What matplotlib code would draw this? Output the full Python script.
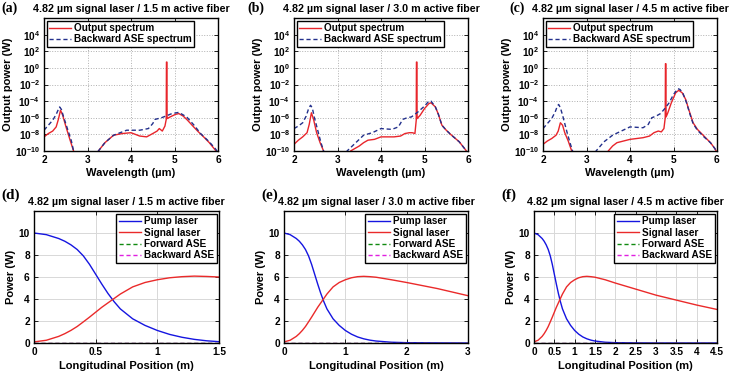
import numpy as np
import matplotlib.pyplot as plt
from matplotlib.ticker import FixedLocator, NullLocator

plt.rcParams['font.family'] = ['Liberation Sans', 'DejaVu Sans']
plt.rcParams['font.weight'] = 'bold'

titles = ["4.82 \u00b5m signal laser / 1.5 m active fiber",
          "4.82 \u00b5m signal laser / 3.0 m active fiber",
          "4.82 \u00b5m signal laser / 4.5 m active fiber"]
panel_tags = ["(a)", "(b)", "(c)", "(d)", "(e)", "(f)"]

# Spectra: wavelength (um) and log10 of output power (W)
wl_out_a = [2.0, 2.1, 2.2, 2.28, 2.33, 2.38, 2.43, 2.5, 2.6, 2.68, 2.75, 3.2, 3.25, 3.4, 3.6, 3.8, 4.0,
            4.2, 4.36, 4.5, 4.6, 4.65, 4.72, 4.78, 4.81, 4.815, 4.825, 4.83, 4.9, 5.02, 5.1, 5.2, 5.3,
            5.44, 5.55, 5.67, 5.8, 5.94, 6.0]
lg_out_a = [-8.3, -7.9, -7.6, -7.1, -6.2, -5.1, -5.7, -7.0, -8.7, -10.0, -11, -11, -10.0, -9.0, -8.1,
            -7.9, -7.8, -8.2, -8.3, -7.9, -7.6, -7.3, -7.6, -7.0, -6.2, 0.7, 0.7, -6.1, -5.9, -5.6,
            -5.5, -5.8, -6.3, -7.1, -7.7, -8.3, -9.0, -9.9, -10.3]
wl_ase_a = [2.0, 2.1, 2.2, 2.28, 2.33, 2.36, 2.4, 2.45, 2.55, 2.63, 2.68, 2.75, 3.2, 3.25, 3.4, 3.6,
            3.8, 3.9, 4.0, 4.2, 4.4, 4.5, 4.55, 4.7, 4.8, 4.94, 5.05, 5.1, 5.18, 5.28, 5.45, 5.6,
            5.8, 5.95, 6.0]
lg_ase_a = [-7.5, -6.9, -6.3, -5.6, -5.0, -4.7, -5.0, -5.9, -7.5, -8.8, -10.0, -11, -11, -10.0, -9.0,
            -8.1, -7.7, -7.5, -7.5, -7.5, -7.3, -6.7, -6.2, -6.0, -5.8, -5.5, -5.4, -5.35, -5.6,
            -5.9, -6.9, -7.9, -8.9, -9.8, -10.2]

wl_out_b = [2.0, 2.1, 2.2, 2.3, 2.35, 2.4, 2.45, 2.52, 2.6, 2.68, 2.75, 3.25, 3.3, 3.5, 3.6, 3.7,
            3.85, 4.0, 4.15, 4.3, 4.45, 4.55, 4.65, 4.72, 4.78, 4.81, 4.815, 4.825, 4.83, 4.9, 5.0,
            5.1, 5.15, 5.25, 5.32, 5.4, 5.5, 5.6, 5.8, 5.95, 6.0]
lg_out_b = [-9.2, -8.7, -8.3, -7.8, -6.8, -5.4, -6.2, -7.8, -9.0, -10.0, -11, -11, -10.0, -9.4, -9.0,
            -8.7, -8.6, -8.3, -8.3, -8.3, -8.2, -7.9, -7.8, -7.8, -7.9, -6.3, 0.7, 0.7, -6.1, -5.7,
            -4.9, -4.3, -4.2, -4.7, -5.6, -6.9, -7.5, -8.0, -8.9, -9.9, -10.3]
wl_ase_b = [2.0, 2.1, 2.2, 2.28, 2.33, 2.38, 2.42, 2.47, 2.55, 2.62, 2.68, 2.75, 3.15, 3.22, 3.4, 3.6,
            3.8, 4.0, 4.25, 4.4, 4.5, 4.6, 4.7, 4.85, 5.0, 5.1, 5.15, 5.25, 5.32, 5.4, 5.5, 5.6,
            5.8, 5.95, 6.0]
lg_ase_b = [-7.3, -7.0, -6.6, -5.8, -5.0, -4.5, -4.8, -6.0, -7.6, -9.0, -10.0, -11, -11, -10.0, -9.1,
            -8.1, -7.8, -7.3, -7.4, -7.1, -6.2, -6.0, -5.9, -5.3, -4.6, -4.0, -4.0, -4.7, -5.6,
            -6.9, -7.5, -8.0, -8.9, -9.9, -10.3]

wl_out_c = [2.0, 2.1, 2.2, 2.3, 2.35, 2.4, 2.45, 2.5, 2.58, 2.66, 2.75, 3.4, 3.5, 3.6, 3.7, 3.85,
            4.0, 4.15, 4.3, 4.45, 4.55, 4.65, 4.72, 4.78, 4.81, 4.815, 4.825, 4.83, 4.87, 4.95,
            5.05, 5.12, 5.2, 5.28, 5.35, 5.45, 5.55, 5.7, 5.85, 5.95, 6.0]
lg_out_c = [-9.2, -8.8, -8.5, -8.1, -7.6, -6.6, -6.9, -7.8, -8.8, -10.0, -11, -11, -10.0, -9.4, -9.0,
            -8.8, -8.6, -8.5, -8.4, -8.2, -7.8, -7.6, -7.7, -7.3, -6.0, 0.5, 0.5, -5.9, -5.4, -4.2,
            -3.0, -2.7, -3.0, -3.8, -5.0, -6.6, -7.4, -8.2, -9.0, -9.7, -10.2]
wl_ase_c = [2.0, 2.1, 2.2, 2.28, 2.33, 2.36, 2.4, 2.45, 2.55, 2.62, 2.68, 2.75, 3.15, 3.22, 3.4, 3.6,
            3.8, 4.0, 4.3, 4.42, 4.5, 4.6, 4.7, 4.8, 4.9, 5.0, 5.1, 5.15, 5.22, 5.3, 5.38, 5.45,
            5.55, 5.7, 5.85, 5.95, 6.0]
lg_ase_c = [-7.3, -6.7, -6.1, -5.3, -4.6, -4.4, -4.8, -5.7, -7.7, -9.0, -10.0, -11, -11, -10.0, -8.9,
            -8.1, -7.6, -7.1, -7.2, -6.8, -6.0, -5.8, -5.5, -4.9, -4.2, -3.2, -2.5, -2.6, -3.1,
            -4.2, -5.6, -6.7, -7.5, -8.3, -9.0, -9.7, -10.2]

# Power evolution along the fiber (W)
pos_d = [0, 0.1, 0.2, 0.25, 0.3, 0.35, 0.4, 0.45, 0.5, 0.55, 0.6, 0.65, 0.7, 0.8, 0.9, 1.0, 1.1,
         1.2, 1.3, 1.4, 1.5]
pump_d = [10, 9.85, 9.5, 9.25, 8.92, 8.5, 7.92, 7.15, 6.25, 5.35, 4.5, 3.75, 3.1, 2.2, 1.6, 1.14,
          0.78, 0.52, 0.33, 0.2, 0.12]
signal_d = [0.1, 0.25, 0.6, 0.85, 1.15, 1.5, 1.92, 2.35, 2.8, 3.25, 3.65, 4.05, 4.45, 5.1, 5.5,
            5.75, 5.93, 6.03, 6.08, 6.05, 6.0]

pos_e = [0, 0.1, 0.2, 0.25, 0.3, 0.35, 0.4, 0.45, 0.5, 0.55, 0.6, 0.65, 0.7, 0.8, 0.9, 1.0, 1.1,
         1.2, 1.3, 1.4, 1.5, 1.75, 2.0, 2.5, 3.0]
pump_e = [10, 9.85, 9.5, 9.25, 8.92, 8.5, 7.92, 7.15, 6.25, 5.35, 4.5, 3.75, 3.1, 2.2, 1.6, 1.14,
          0.8, 0.55, 0.38, 0.26, 0.18, 0.07, 0.03, 0.01, 0.0]
signal_e = [0.1, 0.25, 0.6, 0.85, 1.15, 1.5, 1.92, 2.35, 2.8, 3.25, 3.65, 4.05, 4.45, 5.1, 5.5,
            5.75, 5.93, 6.03, 6.06, 6.03, 5.98, 5.75, 5.5, 4.95, 4.3]

pos_f = [0, 0.1, 0.2, 0.25, 0.3, 0.35, 0.4, 0.45, 0.5, 0.55, 0.6, 0.65, 0.7, 0.8, 0.9, 1.0, 1.1,
         1.2, 1.3, 1.4, 1.5, 1.75, 2.0, 2.5, 3.0, 3.5, 4.0, 4.5]
pump_f = [10, 9.85, 9.5, 9.25, 8.92, 8.5, 7.92, 7.15, 6.25, 5.35, 4.5, 3.75, 3.1, 2.2, 1.6, 1.14,
          0.8, 0.55, 0.38, 0.26, 0.18, 0.07, 0.03, 0.01, 0.0, 0.0, 0.0, 0.0]
signal_f = [0.1, 0.25, 0.6, 0.85, 1.15, 1.5, 1.92, 2.35, 2.8, 3.25, 3.65, 4.05, 4.45, 5.1, 5.5,
            5.75, 5.93, 6.03, 6.06, 6.03, 5.98, 5.75, 5.45, 4.9, 4.35, 3.9, 3.45, 3.05]

fiber_len = [1.5, 3.0, 4.5]
fwd_ase = [0.0, 0.0]
bwd_ase = [0.0, 0.0]

spectra = [(wl_out_a, lg_out_a, wl_ase_a, lg_ase_a),
           (wl_out_b, lg_out_b, wl_ase_b, lg_ase_b),
           (wl_out_c, lg_out_c, wl_ase_c, lg_ase_c)]
powers = [(pos_d, pump_d, signal_d), (pos_e, pump_e, signal_e), (pos_f, pump_f, signal_f)]
x_ticks = [[0, 0.5, 1, 1.5], [0, 1, 2, 3], [0, 0.5, 1, 1.5, 2, 2.5, 3, 3.5, 4, 4.5]]

W, H = 742, 378
fig = plt.figure(figsize=(W / 100, H / 100), dpi=100)

top_left = [44, 294, 543]
bot_left = [34, 284, 534]
bot_width = [185, 184, 183]
tag_top_x = [1, 247, 509]
tag_bot_x = [1, 261, 501]
serif = ['Liberation Serif', 'DejaVu Serif']


def style_axes(ax):
    for s in ax.spines.values():
        s.set_linewidth(1.0)
        s.set_color('black')
    ax.tick_params(direction='in', length=3, width=0.6, labelsize=7.3, pad=3,
                   top=True, right=True)
    for lab in ax.get_xticklabels() + ax.get_yticklabels():
        lab.set_fontweight('bold')


def add_legend(ax, loc):
    leg = ax.legend(loc=loc, handlelength=2.2, handletextpad=0.3,
                    borderpad=0.25, labelspacing=0.15, borderaxespad=0.25, fancybox=False,
                    framealpha=1, edgecolor='black', prop={'weight': 'bold', 'size': 7.2})
    leg.get_frame().set_linewidth(1.0)


for i in range(3):
    # spectrum panel
    ax = fig.add_axes([top_left[i] / W, 1 - 151 / H, 174 / W, 133 / H])
    wo, lo, wa, la = spectra[i]
    ax.plot(wo, 10 ** np.array(lo), color='#e8252b', lw=1.0, label='Output spectrum')
    ax.plot(wa, 10 ** np.array(la), color='#23308c', lw=1.0, ls=(0, (3, 2)),
            label='Backward ASE spectrum')
    ax.set_yscale('log')
    ax.set_xlim(2, 6)
    ax.set_ylim(1e-10, 1e6)
    ax.set_xticks([2, 3, 4, 5, 6])
    ax.yaxis.set_major_locator(FixedLocator([10.0 ** k for k in range(-10, 5, 2)]))
    ax.yaxis.set_minor_locator(NullLocator())
    ax.grid(True, ls=':', color='#b0b0b0', lw=0.7)
    ax.set_xlabel('Wavelength (\u00b5m)', fontsize=8, fontweight='bold', labelpad=2)
    ax.set_ylabel('Output power (W)', fontsize=8, fontweight='bold', labelpad=1)
    ax.set_title(titles[i], fontsize=7.7, fontweight='bold', pad=4)
    add_legend(ax, 'upper left')
    style_axes(ax)
    fig.text(tag_top_x[i] / W, 1 - 2 / H, panel_tags[i], fontsize=10, fontweight='bold',
             family=serif, ha='left', va='top')

    # power panel
    ax = fig.add_axes([bot_left[i] / W, 1 - 343 / H, bot_width[i] / W, 132 / H])
    p, pu, si = powers[i]
    L = fiber_len[i]
    ax.plot(p, pu, color='#1515e0', lw=1.0, label='Pump laser')
    ax.plot(p, si, color='#ea2a2a', lw=1.0, label='Signal laser')
    ax.plot([0, L], fwd_ase, color='#108a10', lw=1.0, ls=(0, (3, 2)), label='Forward ASE')
    ax.plot([0, L], bwd_ase, color='#e020e0', lw=1.0, ls=(0, (3, 2)), label='Backward ASE')
    ax.set_xlim(0, L)
    ax.set_ylim(0, 12)
    ax.set_xticks(x_ticks[i])
    ax.set_xticklabels([f'{v:g}' for v in x_ticks[i]])
    ax.set_yticks([0, 2, 4, 6, 8, 10])
    ax.grid(True, ls='-', color='#d8d8d8', lw=0.7)
    ax.set_xlabel('Longitudinal Position (m)', fontsize=8, fontweight='bold', labelpad=3)
    ax.set_ylabel('Power (W)', fontsize=8, fontweight='bold', labelpad=2)
    ax.set_title(titles[i], fontsize=7.7, fontweight='bold', pad=4)
    add_legend(ax, 'upper right')
    style_axes(ax)
    fig.text(tag_bot_x[i] / W, 1 - 195 / H, panel_tags[i + 3], fontsize=11,
             fontweight='bold', family=serif, ha='left', va='center')

fig.savefig('out.png', dpi=100)
